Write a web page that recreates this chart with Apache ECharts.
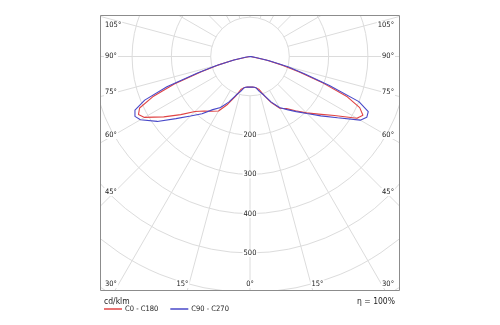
<!DOCTYPE html>
<html>
<head>
<meta charset="utf-8">
<script src="https://cdn.jsdelivr.net/npm/echarts@6/dist/echarts.min.js"></script>
<style>
  html, body { margin: 0; padding: 0; background: #fff; }
  #chart { width: 500px; height: 325px; }
</style>
</head>
<body>
<div id="chart"></div>
<script>
// Polar light distribution (cd/klm) per gamma angle, 0° = straight down.
const gammaAngles = [0, 5, 10, 15, 20, 25, 30, 35, 40, 45, 50, 55, 60, 62.5, 65, 67.5, 70, 72.5, 75, 77.5, 80, 85, 90];
// C0 - C180 plane: right half (C0) and left half (C180)
const c0   = [78, 78, 80, 86, 106, 130, 152, 162, 180, 203, 228, 262, 314, 324, 308, 268, 198, 130, 85, 42, 10, 2, 0];
const c180 = [78, 78, 80, 86, 108, 134, 160, 170, 181, 198, 230, 268, 310, 320, 310, 268, 205, 130, 85, 42, 10, 2, 0];
// C90 - C270 plane: right half (C90) and left half (C270)
const c90  = [78, 78, 80, 92, 105, 128, 150, 165, 183, 205, 235, 272, 324, 335, 332, 300, 215, 145, 100, 50, 15, 3, 0];
const c270 = [78, 78, 80, 92, 105, 128, 150, 165, 190, 214, 246, 288, 322, 330, 323, 290, 225, 140, 90, 42, 12, 2, 0];

const seriesNames = ['C0 - C180', 'C90 - C270'];
const seriesColors = ['#e04444', '#4848c8'];
const radiusLabels = [200, 300, 400, 500];
const leftAngleLabels = [['105°', 25], ['90°', 56], ['75°', 92.5], ['60°', 135], ['45°', 192], ['30°', 284]];
const bottomAngleLabels = [['15°', 182.5], ['0°', 250], ['15°', 317.5]];
const unitLabel = 'cd/klm';
const efficiencyLabel = 'η = 100%';

const FONT = '"DejaVu Sans Condensed", "DejaVu Sans", sans-serif';
const GRID = '#dcdcdc';
const TEXT = '#222';

// Frame of the diagram
const frame = { x: 100.5, y: 15.5, w: 299, h: 275 };
const center = [250, 56.5];
const pxPerUnit = 0.393;
const rMax = 800;

// Join the two halves of a C-plane into one outline: left half
// as negative angles, right half as positive angles.
function plane(left, right) {
  const pts = [];
  for (let i = gammaAngles.length - 1; i >= 0; i--) pts.push([left[i], -gammaAngles[i]]);
  for (let i = 0; i < gammaAngles.length; i++) pts.push([right[i], gammaAngles[i]]);
  return pts;
}

const chart = echarts.init(document.getElementById('chart'), null, { renderer: 'canvas' });

const graphics = [];
// white masks so the grid only shows inside the frame
graphics.push(
  { type: 'rect', z: 100, silent: true, shape: { x: 0, y: 0, width: 500, height: frame.y }, style: { fill: '#fff' } },
  { type: 'rect', z: 100, silent: true, shape: { x: 0, y: 0, width: frame.x, height: 325 }, style: { fill: '#fff' } },
  { type: 'rect', z: 100, silent: true, shape: { x: frame.x + frame.w, y: 0, width: 500 - frame.x - frame.w, height: 325 }, style: { fill: '#fff' } },
  { type: 'rect', z: 100, silent: true, shape: { x: 0, y: frame.y + frame.h, width: 500, height: 325 - frame.y - frame.h }, style: { fill: '#fff' } },
  { type: 'rect', z: 101, silent: true, shape: { x: frame.x, y: frame.y, width: frame.w, height: frame.h }, style: { fill: null, stroke: '#8c8c8c', lineWidth: 1 } }
);
// angle labels on both sides of the frame
const labelFont = '7.5px ' + FONT;
leftAngleLabels.forEach(([t, y]) => {
  graphics.push({ type: 'text', z: 102, silent: true, x: 104, y: y,
    style: { text: t, fill: TEXT, font: labelFont, align: 'left', verticalAlign: 'middle', backgroundColor: '#fff', padding: [0, 1] } });
  graphics.push({ type: 'text', z: 102, silent: true, x: 395, y: y,
    style: { text: t, fill: TEXT, font: labelFont, align: 'right', verticalAlign: 'middle', backgroundColor: '#fff', padding: [0, 1] } });
});
bottomAngleLabels.forEach(([t, x]) => {
  graphics.push({ type: 'text', z: 102, silent: true, x: x, y: 284,
    style: { text: t, fill: TEXT, font: labelFont, align: 'center', verticalAlign: 'middle', backgroundColor: '#fff', padding: [0, 1] } });
});
graphics.push(
  { type: 'text', z: 102, silent: true, x: 104, y: 301.5, style: { text: unitLabel, fill: TEXT, font: '8.5px ' + FONT, align: 'left', verticalAlign: 'middle' } },
  { type: 'text', z: 102, silent: true, x: 395, y: 301.5, style: { text: efficiencyLabel, fill: TEXT, font: '8.5px ' + FONT, align: 'right', verticalAlign: 'middle' } }
);

const option = {
  animation: false,
  backgroundColor: '#fff',
  polar: [
    { center: center, radius: [100 * pxPerUnit, rMax * pxPerUnit] },
    { center: center, radius: [0, rMax * pxPerUnit] }
  ],
  angleAxis: [
    {
      polarIndex: 0, type: 'value', min: 0, max: 360, interval: 15,
      startAngle: 270, z: 1,
      axisLine: { show: false }, axisTick: { show: false }, axisLabel: { show: false },
      splitLine: { show: true, lineStyle: { color: GRID, width: 1 } }
    },
    {
      polarIndex: 1, type: 'value', min: -180, max: 180,
      startAngle: 90, clockwise: false, show: false
    }
  ],
  radiusAxis: [
    {
      polarIndex: 0, type: 'value', min: 100, max: rMax, interval: 100, z: 3,
      axisLine: { show: false }, axisTick: { show: false },
      splitLine: { show: true, lineStyle: { color: GRID, width: 1 } },
      axisLabel: {
        show: true, margin: 0, align: 'center', verticalAlign: 'middle',
        formatter: v => radiusLabels.includes(v) ? '{b|' + v + '}' : '',
        rich: { b: { backgroundColor: '#fff', padding: [0, 1], color: TEXT, fontSize: 7.5, fontFamily: FONT } }
      }
    },
    { polarIndex: 1, type: 'value', min: 0, max: rMax, show: false }
  ],
  legend: {
    left: 104, top: 305, padding: 0, icon: 'rect', itemWidth: 18, itemHeight: 1.5, itemGap: 12, z: 200,
    data: seriesNames,
    textStyle: { fontSize: 7.5, color: TEXT, fontFamily: FONT, padding: [0, 0, 0, -2] }
  },
  graphic: graphics,
  series: [
    {
      type: 'line', name: seriesNames[0], coordinateSystem: 'polar', polarIndex: 1,
      data: plane(c180, c0), symbol: 'none', z: 3,
      lineStyle: { color: seriesColors[0], width: 1.1 }, itemStyle: { color: seriesColors[0] }
    },
    {
      type: 'line', name: seriesNames[1], coordinateSystem: 'polar', polarIndex: 1,
      data: plane(c270, c90), symbol: 'none', z: 4,
      lineStyle: { color: seriesColors[1], width: 1.1 }, itemStyle: { color: seriesColors[1] }
    }
  ]
};

chart.setOption(option);
</script>
</body>
</html>
